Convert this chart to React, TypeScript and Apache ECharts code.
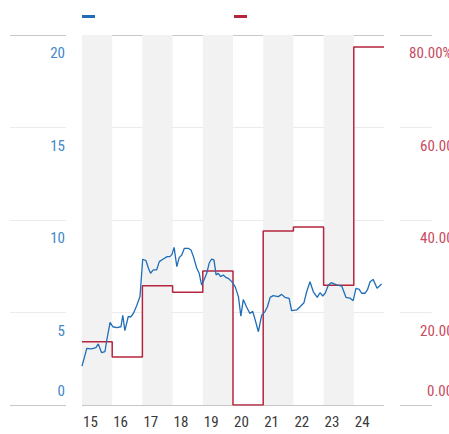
import React, { useEffect, useRef } from "react";
import * as echarts from "echarts";

const days = [15, 16, 17, 18, 19, 20, 21, 22, 23, 24];
const dayEnd = 25;
const shareByDay = [13.7, 10.4, 25.8, 24.4, 29.0, 0, 37.6, 38.5, 25.9, 77.4];

const blueX = [
  15.0, 15.16, 15.32, 15.46, 15.54, 15.65, 15.76, 15.82, 15.93, 16.02, 16.15, 16.29, 16.35, 16.42,
  16.53, 16.62, 16.7, 16.81, 16.92, 17.01, 17.12, 17.2, 17.27, 17.36, 17.47, 17.56, 17.69, 17.82,
  17.91, 17.98, 18.05, 18.14, 18.22, 18.3, 18.39, 18.52, 18.61, 18.69, 18.8, 18.88, 18.96, 19.04,
  19.13, 19.21, 19.29, 19.37, 19.44, 19.51, 19.59, 19.68, 19.76, 19.84, 19.96, 20.07, 20.18, 20.26,
  20.34, 20.45, 20.56, 20.65, 20.73, 20.84, 20.95, 21.06, 21.14, 21.23, 21.33, 21.5, 21.61, 21.72,
  21.86, 21.94, 22.11, 22.22, 22.35, 22.44, 22.55, 22.66, 22.79, 22.88, 22.97, 23.05, 23.16, 23.25,
  23.43, 23.6, 23.74, 23.87, 23.98, 24.07, 24.18, 24.26, 24.37, 24.45, 24.54, 24.64, 24.77, 24.85,
  24.92,
];
const blueY = [
  2.1, 3.06, 3.03, 3.1, 3.3, 2.83, 2.88, 3.5, 4.47, 4.23, 4.18, 4.23, 4.85, 4.02,
  4.77, 4.77, 4.95, 5.37, 5.86, 7.88, 7.8, 7.39, 7.12, 7.3, 7.3, 7.75, 7.89, 8.02,
  8.02, 8.14, 8.52, 7.48, 7.98, 8.1, 8.47, 8.47, 8.38, 8.02, 7.39, 7.12, 6.49, 6.76,
  7.12, 7.66, 7.89, 7.84, 7.03, 7.12, 6.94, 7.03, 6.9, 6.85, 6.67, 6.4, 5.86, 4.8,
  5.7, 5.3, 4.95, 5.07, 4.63, 3.96, 4.86, 5.05, 5.31, 5.82, 5.91, 5.86, 5.98, 5.82,
  5.76, 5.1, 5.14, 5.31, 5.53, 6.12, 6.66, 6.12, 5.82, 6.07, 5.89, 6.04, 6.49, 6.61,
  6.49, 6.43, 5.82, 5.78, 5.64, 6.31, 6.25, 6.04, 6.04, 6.22, 6.66, 6.79, 6.31, 6.43,
  6.54,
];

const leftTicks = { min: 0, max: 20, interval: 5 };
const rightTicks = { min: 0, max: 80, interval: 20 };

const FONT = "'Roboto Condensed', 'Roboto', sans-serif";
const BLUE = "#1f6db8";
const RED = "#b5253d";
const BLUE_LABEL = "#3f87c7";
const RED_LABEL = "#c84a5e";
const lineColors = ["#c8c8c8", "#ebebeb", "#ebebeb", "#ebebeb", "#c8c8c8"];

export default function App() {
  const ref = useRef<HTMLDivElement>(null);
  useEffect(() => {
    if (!ref.current) return;
    const chart = echarts.init(ref.current, null, { renderer: "svg" });
    const blueData = blueX.map((x, i) => [x, blueY[i]]);
    const redData = days.map((d, i) => [d, shareByDay[i]]);
    redData.push([dayEnd, shareByDay[shareByDay.length - 1]]);

    const leftRich = {
      top: { fontFamily: FONT, fontSize: 15, color: BLUE_LABEL, padding: [36, 0, 0, 0] },
      bot: { fontFamily: FONT, fontSize: 15, color: BLUE_LABEL, padding: [0, 0, 29, 0] },
    };
    const rightRich = {
      top: { fontFamily: FONT, fontSize: 15, color: RED_LABEL, padding: [36, 0, 0, 11] },
      topMax: { fontFamily: FONT, fontSize: 15, color: RED_LABEL, padding: [36, 0, 0, 0] },
      bot: { fontFamily: FONT, fontSize: 15, color: RED_LABEL, padding: [0, 0, 29, 18] },
    };

    chart.setOption({
      animation: false,
      legend: {
        left: 82,
        top: 15,
        padding: 0,
        icon: "rect",
        itemWidth: 13,
        itemHeight: 3,
        itemGap: 139,
        formatter: () => "",
        data: ["Value", "Share"],
        selectedMode: false,
      },
      grid: [
        { left: 82, right: 65, top: 35, bottom: 29 },
        { left: 10, width: 56, top: 35, bottom: 29 },
        { left: 400, right: 0, top: 35, bottom: 29 },
      ],
      xAxis: [
        {
          type: "value",
          gridIndex: 0,
          min: days[0],
          max: dayEnd,
          interval: 1,
          axisLine: { show: false },
          axisTick: { show: false },
          splitLine: { show: false },
          splitArea: { show: true, areaStyle: { color: ["#f2f2f2", "rgba(255,255,255,0)"] } },
          axisLabel: {
            showMaxLabel: false,
            align: "left",
            padding: [0, 0, 0, 1],
            margin: 9,
            fontFamily: FONT,
            fontSize: 15,
            color: "#3a3a3a",
          },
        },
        { type: "value", gridIndex: 1, show: false, min: 0, max: 1 },
        { type: "value", gridIndex: 2, show: false, min: 0, max: 1 },
      ],
      yAxis: [
        {
          type: "value",
          gridIndex: 0,
          ...leftTicks,
          axisLine: { show: false },
          axisTick: { show: false },
          axisLabel: { show: false },
          splitLine: { show: true, lineStyle: { color: lineColors, width: 1 } },
        },
        {
          type: "value",
          gridIndex: 0,
          position: "right",
          ...rightTicks,
          show: false,
          splitLine: { show: false },
        },
        {
          type: "value",
          gridIndex: 1,
          position: "right",
          ...leftTicks,
          axisLine: { show: false },
          axisTick: { show: false },
          splitLine: { show: true, lineStyle: { color: lineColors, width: 1 } },
          axisLabel: {
            inside: true,
            margin: 1,
            formatter: (v: number) => (v === leftTicks.min ? `{bot|${v}}` : `{top|${v}}`),
            rich: leftRich,
          },
        },
        {
          type: "value",
          gridIndex: 2,
          position: "left",
          ...rightTicks,
          axisLine: { show: false },
          axisTick: { show: false },
          splitLine: { show: true, lineStyle: { color: lineColors, width: 1 } },
          axisLabel: {
            inside: true,
            margin: 9,
            formatter: (v: number) => {
              const s = v.toFixed(2) + "%";
              if (v === rightTicks.min) return `{bot|${s}}`;
              if (v === rightTicks.max) return `{topMax|${s}}`;
              return `{top|${s}}`;
            },
            rich: rightRich,
          },
        },
      ],
      series: [
        {
          name: "Value",
          type: "line",
          xAxisIndex: 0,
          yAxisIndex: 0,
          data: blueData,
          showSymbol: false,
          symbol: "none",
          color: BLUE,
          lineStyle: { color: BLUE, width: 1.3 },
          z: 3,
        },
        {
          name: "Share",
          type: "line",
          xAxisIndex: 0,
          yAxisIndex: 1,
          step: "end",
          data: redData,
          showSymbol: false,
          symbol: "none",
          color: RED,
          lineStyle: { color: RED, width: 1.5 },
          z: 2,
        },
      ],
    });
    return () => chart.dispose();
  }, []);
  return (
    <div
      ref={ref}
      style={{ position: "absolute", left: 0, top: 0, width: 449, height: 434 }}
    />
  );
}
